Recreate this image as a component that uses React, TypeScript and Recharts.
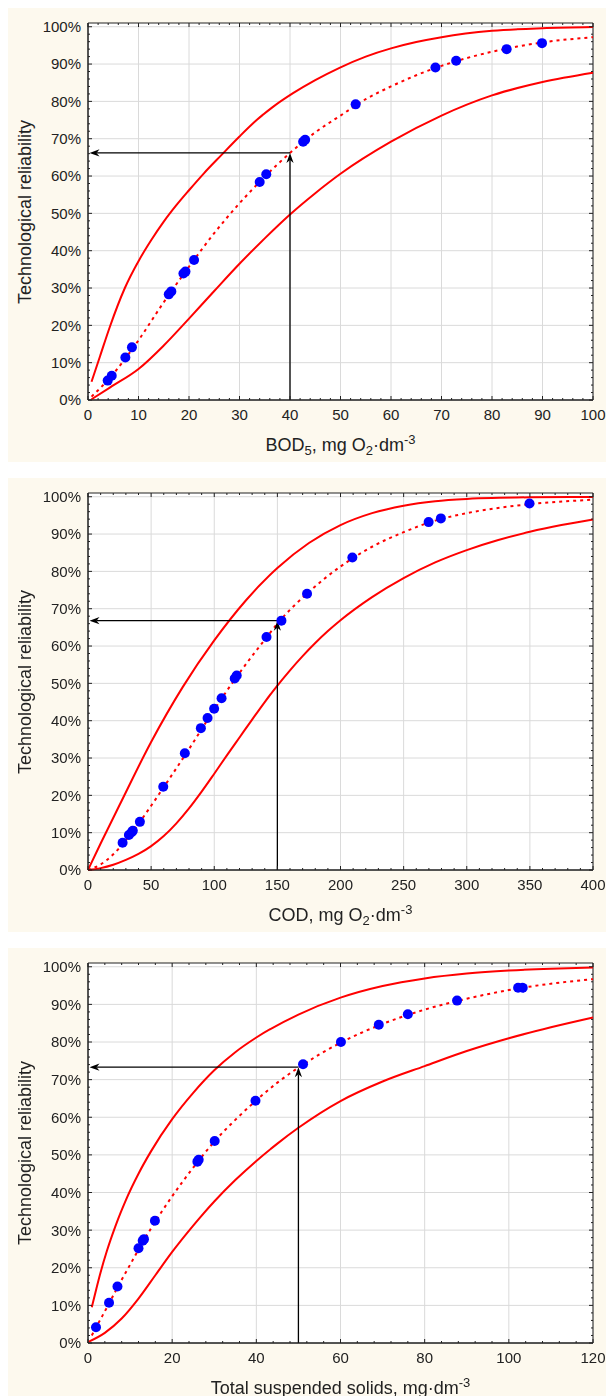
import React from 'react';
import { ComposedChart, Line, Scatter, XAxis, YAxis, CartesianGrid, ReferenceLine, ReferenceArea } from 'recharts';

type Pt = { x: number; y: number };

// BOD5 panel
const bodPoints: Pt[] = [
  { x: 3.9, y: 0.052 }, { x: 4.7, y: 0.065 }, { x: 7.4, y: 0.114 }, { x: 8.7, y: 0.141 },
  { x: 16.0, y: 0.283 }, { x: 16.5, y: 0.291 }, { x: 18.9, y: 0.339 }, { x: 19.3, y: 0.344 },
  { x: 21.0, y: 0.375 }, { x: 34.0, y: 0.584 }, { x: 35.3, y: 0.605 }, { x: 42.6, y: 0.692 },
  { x: 43.0, y: 0.697 }, { x: 53.0, y: 0.792 }, { x: 68.8, y: 0.891 }, { x: 72.9, y: 0.909 },
  { x: 82.9, y: 0.94 }, { x: 89.9, y: 0.956 },
];
const bodFit: Pt[] = [
  { x: 0.7, y: 0.009 }, { x: 2.5, y: 0.033 }, { x: 5, y: 0.07 }, { x: 7.5, y: 0.113 },
  { x: 10, y: 0.16 }, { x: 15, y: 0.262 }, { x: 20, y: 0.357 }, { x: 25, y: 0.447 },
  { x: 30, y: 0.527 }, { x: 35, y: 0.598 }, { x: 40, y: 0.662 }, { x: 45, y: 0.717 },
  { x: 50, y: 0.762 }, { x: 55, y: 0.806 }, { x: 60, y: 0.84 }, { x: 65, y: 0.87 },
  { x: 70, y: 0.895 }, { x: 75, y: 0.916 }, { x: 80, y: 0.933 }, { x: 85, y: 0.947 },
  { x: 90, y: 0.958 }, { x: 100, y: 0.972 },
];
const bodUpper: Pt[] = [
  { x: 0.7, y: 0.049 }, { x: 2.4, y: 0.118 }, { x: 4.3, y: 0.195 }, { x: 7.3, y: 0.3 },
  { x: 10, y: 0.372 }, { x: 12.5, y: 0.428 }, { x: 15, y: 0.478 }, { x: 17.5, y: 0.522 },
  { x: 20, y: 0.562 }, { x: 23, y: 0.608 }, { x: 26.4, y: 0.656 }, { x: 30, y: 0.706 },
  { x: 33.4, y: 0.75 }, { x: 36.5, y: 0.784 }, { x: 40.6, y: 0.822 }, { x: 45, y: 0.857 },
  { x: 49.8, y: 0.89 }, { x: 55, y: 0.92 }, { x: 60, y: 0.942 }, { x: 65, y: 0.959 },
  { x: 70, y: 0.972 }, { x: 80, y: 0.989 }, { x: 90, y: 0.996 }, { x: 100, y: 0.999 },
];
const bodLower: Pt[] = [
  { x: 0.7, y: 0.002 }, { x: 4.4, y: 0.034 }, { x: 10, y: 0.083 }, { x: 15, y: 0.146 },
  { x: 20, y: 0.218 }, { x: 25, y: 0.292 }, { x: 30, y: 0.365 }, { x: 35, y: 0.433 },
  { x: 40, y: 0.497 }, { x: 45, y: 0.554 }, { x: 50, y: 0.606 }, { x: 60, y: 0.692 },
  { x: 70, y: 0.762 }, { x: 80, y: 0.816 }, { x: 90, y: 0.852 }, { x: 100, y: 0.877 },
];
const bodArrow = { x: 40, y: 0.662 };
const bodXMajor = [0, 10, 20, 30, 40, 50, 60, 70, 80, 90, 100];

// COD panel
const codPoints: Pt[] = [
  { x: 27.4, y: 0.073 }, { x: 32.4, y: 0.094 }, { x: 34.6, y: 0.101 }, { x: 35.5, y: 0.105 },
  { x: 41.1, y: 0.129 }, { x: 59.6, y: 0.223 }, { x: 76.7, y: 0.313 }, { x: 89.4, y: 0.38 },
  { x: 94.7, y: 0.407 }, { x: 99.9, y: 0.432 }, { x: 105.8, y: 0.46 }, { x: 116.2, y: 0.513 },
  { x: 117.8, y: 0.521 }, { x: 141.4, y: 0.624 }, { x: 153.2, y: 0.668 }, { x: 173.5, y: 0.74 },
  { x: 209.4, y: 0.837 }, { x: 269.8, y: 0.932 }, { x: 279.5, y: 0.942 }, { x: 349.7, y: 0.982 },
];
const codFit: Pt[] = [
  { x: 0, y: 0 }, { x: 10, y: 0.015 }, { x: 20, y: 0.042 }, { x: 30, y: 0.08 },
  { x: 40, y: 0.124 }, { x: 50, y: 0.172 }, { x: 60, y: 0.222 }, { x: 80, y: 0.324 },
  { x: 100, y: 0.43 }, { x: 120, y: 0.528 }, { x: 140, y: 0.617 }, { x: 150, y: 0.66 },
  { x: 175, y: 0.745 }, { x: 200, y: 0.813 }, { x: 225, y: 0.866 }, { x: 250, y: 0.905 },
  { x: 275, y: 0.936 }, { x: 300, y: 0.956 }, { x: 350, y: 0.98 }, { x: 400, y: 0.992 },
];
const codUpper: Pt[] = [
  { x: 0, y: 0 }, { x: 10, y: 0.071 }, { x: 25, y: 0.174 }, { x: 50, y: 0.343 },
  { x: 75, y: 0.49 }, { x: 100, y: 0.615 }, { x: 125, y: 0.722 }, { x: 150, y: 0.809 },
  { x: 175, y: 0.876 }, { x: 200, y: 0.924 }, { x: 225, y: 0.956 }, { x: 250, y: 0.976 },
  { x: 275, y: 0.988 }, { x: 300, y: 0.994 }, { x: 350, y: 0.9985 }, { x: 400, y: 0.9995 },
];
const codLower: Pt[] = [
  { x: 0, y: 0 }, { x: 10, y: 0.005 }, { x: 20, y: 0.014 }, { x: 30, y: 0.027 },
  { x: 40, y: 0.043 }, { x: 50, y: 0.064 }, { x: 60, y: 0.091 }, { x: 70, y: 0.125 },
  { x: 80, y: 0.165 }, { x: 90, y: 0.21 }, { x: 100, y: 0.258 }, { x: 110, y: 0.307 },
  { x: 120, y: 0.355 }, { x: 130, y: 0.403 }, { x: 140, y: 0.45 }, { x: 150, y: 0.494 },
  { x: 160, y: 0.535 }, { x: 170, y: 0.573 }, { x: 180, y: 0.608 }, { x: 190, y: 0.64 },
  { x: 200, y: 0.669 }, { x: 225, y: 0.731 }, { x: 250, y: 0.782 }, { x: 275, y: 0.824 },
  { x: 300, y: 0.857 }, { x: 325, y: 0.884 }, { x: 350, y: 0.906 }, { x: 375, y: 0.924 },
  { x: 400, y: 0.939 },
];
const codArrow = { x: 150, y: 0.668 };
const codXMajor = [0, 50, 100, 150, 200, 250, 300, 350, 400];

// Total suspended solids panel
const tssPoints: Pt[] = [
  { x: 1.9, y: 0.042 }, { x: 5.0, y: 0.107 }, { x: 7.0, y: 0.15 }, { x: 12.0, y: 0.252 },
  { x: 13.0, y: 0.272 }, { x: 13.3, y: 0.276 }, { x: 15.9, y: 0.325 }, { x: 26.0, y: 0.482 },
  { x: 26.3, y: 0.487 }, { x: 30.1, y: 0.537 }, { x: 39.8, y: 0.644 }, { x: 51.1, y: 0.741 },
  { x: 60.1, y: 0.8 }, { x: 69.1, y: 0.846 }, { x: 76.0, y: 0.874 }, { x: 87.7, y: 0.91 },
  { x: 102.2, y: 0.944 }, { x: 103.3, y: 0.944 },
];
const tssFit: Pt[] = [
  { x: 0.9, y: 0.02 }, { x: 2, y: 0.043 }, { x: 5, y: 0.105 }, { x: 7.5, y: 0.158 },
  { x: 10, y: 0.208 }, { x: 12.5, y: 0.258 }, { x: 15, y: 0.305 }, { x: 20, y: 0.39 },
  { x: 25, y: 0.466 }, { x: 30, y: 0.535 }, { x: 35, y: 0.593 }, { x: 40, y: 0.645 },
  { x: 45, y: 0.692 }, { x: 50, y: 0.732 }, { x: 55, y: 0.767 }, { x: 60, y: 0.798 },
  { x: 70, y: 0.848 }, { x: 80, y: 0.886 }, { x: 90, y: 0.915 }, { x: 100, y: 0.938 },
  { x: 110, y: 0.955 }, { x: 120, y: 0.967 },
];
const tssUpper: Pt[] = [
  { x: 0.9, y: 0.095 }, { x: 2, y: 0.145 }, { x: 3, y: 0.188 }, { x: 4.5, y: 0.245 },
  { x: 6.5, y: 0.31 }, { x: 9, y: 0.38 }, { x: 12, y: 0.45 }, { x: 15, y: 0.51 },
  { x: 20, y: 0.595 }, { x: 25, y: 0.665 }, { x: 30, y: 0.725 }, { x: 35, y: 0.773 },
  { x: 40, y: 0.812 }, { x: 50, y: 0.873 }, { x: 60, y: 0.918 }, { x: 70, y: 0.949 },
  { x: 80, y: 0.969 }, { x: 90, y: 0.982 }, { x: 100, y: 0.99 }, { x: 110, y: 0.995 },
  { x: 120, y: 0.998 },
];
const tssLower: Pt[] = [
  { x: 0.1, y: 0.003 }, { x: 4, y: 0.027 }, { x: 8, y: 0.065 }, { x: 12, y: 0.118 },
  { x: 16, y: 0.18 }, { x: 20, y: 0.242 }, { x: 25, y: 0.312 }, { x: 30, y: 0.376 },
  { x: 35, y: 0.433 }, { x: 40, y: 0.484 }, { x: 45, y: 0.53 }, { x: 50, y: 0.572 },
  { x: 60, y: 0.643 }, { x: 70, y: 0.695 }, { x: 80, y: 0.736 }, { x: 90, y: 0.776 },
  { x: 100, y: 0.81 }, { x: 110, y: 0.839 }, { x: 120, y: 0.865 },
];
const tssArrow = { x: 50, y: 0.733 };
const tssXMajor = [0, 20, 40, 60, 80, 100, 120];

const yMajor = [0, 0.1, 0.2, 0.3, 0.4, 0.5, 0.6, 0.7, 0.8, 0.9, 1];

const FONT = '"Liberation Sans", Arial, Helvetica, sans-serif';
const CREAM = '#fdf9ee';
const CHART_W = 598;
const PLOT_L = 80;
const PLOT_R = 13;
const PLOT_T = 15;
const PLOT_W = CHART_W - PLOT_L - PLOT_R;
const Y_MAX = 1.01;
const INK = '#222';

const steps = (max: number, step: number) => {
  const out: number[] = [];
  for (let i = 0; i * step <= max + 1e-9; i++) out.push(Math.round(i * step * 1000) / 1000);
  return out;
};

const isMajorOf = (majors: number[], v: number) => majors.some((m) => Math.abs(m - v) < 1e-6);

// tick marks point inwards on all four sides, labels only on the majors
const makeXTick = (majors: number[], plotH: number) => (p: any) => {
  const { x, y, payload } = p;
  const v = payload.value;
  const major = isMajorOf(majors, v);
  const len = major ? 4 : 2;
  return (
    <g>
      <line x1={x} x2={x} y1={y} y2={y - len} stroke={INK} />
      <line x1={x} x2={x} y1={y - plotH} y2={y - plotH + len} stroke={INK} />
      {major && (
        <text x={x} y={y + 20} textAnchor="middle" fontSize={15} fontFamily={FONT} fill={INK}>
          {v}
        </text>
      )}
    </g>
  );
};

const makeYTick = () => (p: any) => {
  const { x, y, payload } = p;
  const v = payload.value;
  const major = isMajorOf(yMajor, v);
  const len = major ? 4 : 2;
  return (
    <g>
      <line x1={x} x2={x + len} y1={y} y2={y} stroke={INK} />
      <line x1={x + PLOT_W} x2={x + PLOT_W - len} y1={y} y2={y} stroke={INK} />
      {major && (
        <text x={x - 7} y={y} dy="0.36em" textAnchor="end" fontSize={15} fontFamily={FONT} fill={INK}>
          {`${Math.round(v * 100)}%`}
        </text>
      )}
    </g>
  );
};

const ArrowShape = (p: any) => {
  const { x1, y1, x2, y2 } = p;
  const dx = x2 - x1;
  const dy = y2 - y1;
  const d = Math.hypot(dx, dy) || 1;
  const ux = dx / d;
  const uy = dy / d;
  const L = 10;
  const W = 3.6;
  const N = 7;
  const bx = x2 - ux * L;
  const by = y2 - uy * L;
  const nx = x2 - ux * N;
  const ny = y2 - uy * N;
  const pts = `${x2},${y2} ${bx - uy * W},${by + ux * W} ${nx},${ny} ${bx + uy * W},${by - ux * W}`;
  return (
    <g>
      <line x1={x1} y1={y1} x2={nx} y2={ny} stroke="#000" strokeWidth={1.3} />
      <polygon points={pts} fill="#000" />
    </g>
  );
};

const Sub = ({ children }: { children: React.ReactNode }) => (
  <span style={{ fontSize: 13, position: 'relative', top: 4 }}>{children}</span>
);
const Sup = ({ children }: { children: React.ReactNode }) => (
  <span style={{ fontSize: 13, position: 'relative', top: -7 }}>{children}</span>
);

interface PanelProps {
  points: Pt[];
  fit: Pt[];
  upper: Pt[];
  lower: Pt[];
  xMax: number;
  xMajor: number[];
  xMinor: number;
  arrow: { x: number; y: number };
  height: number;
  plotH: number;
  title: React.ReactNode;
}

const Panel: React.FC<PanelProps> = ({ points, fit, upper, lower, xMax, xMajor, xMinor, arrow, height, plotH, title }) => {
  const xAxisH = height - PLOT_T - plotH;
  const xTicks = steps(xMax, xMinor);
  const yTicks = steps(1, 0.02);
  return (
    <div style={{ position: 'relative', width: CHART_W, height, background: CREAM, marginBottom: 16, fontFamily: FONT, color: INK }}>
      <ComposedChart width={CHART_W} height={height} margin={{ top: PLOT_T, right: PLOT_R, bottom: 0, left: 0 }}>
        <CartesianGrid fill="#fff" stroke="#dadada" verticalValues={xMajor} horizontalValues={yMajor} />
        <XAxis
          type="number"
          dataKey="x"
          domain={[0, xMax]}
          ticks={xTicks}
          interval={0}
          tickSize={0}
          tickMargin={0}
          tickLine={false}
          axisLine={{ stroke: INK }}
          tick={makeXTick(xMajor, plotH)}
          height={xAxisH}
        />
        <YAxis
          type="number"
          dataKey="y"
          domain={[0, Y_MAX]}
          ticks={yTicks}
          interval={0}
          tickSize={0}
          tickMargin={0}
          tickLine={false}
          axisLine={{ stroke: INK }}
          tick={makeYTick()}
          width={PLOT_L}
        />
        <Line data={upper} dataKey="y" type="monotone" stroke="#ff0000" strokeWidth={2} dot={false} isAnimationActive={false} />
        <Line data={lower} dataKey="y" type="monotone" stroke="#ff0000" strokeWidth={2} dot={false} isAnimationActive={false} />
        <Scatter
          data={points}
          isAnimationActive={false}
          shape={(p: any) => <circle cx={p.cx} cy={p.cy} r={5} fill="#0000ff" />}
        />
        <Line data={fit} dataKey="y" type="monotone" stroke="#ff0000" strokeWidth={2} strokeDasharray="3 4" dot={false} isAnimationActive={false} />
        <ReferenceLine segment={[{ x: arrow.x, y: 0 }, { x: arrow.x, y: arrow.y }]} shape={ArrowShape} />
        <ReferenceLine segment={[{ x: arrow.x, y: arrow.y }, { x: xMax * 0.003, y: arrow.y }]} shape={ArrowShape} />
        <ReferenceArea x1={0} x2={xMax} y1={0} y2={Y_MAX} fill="none" stroke={INK} strokeWidth={1} ifOverflow="visible" />
      </ComposedChart>
      <div
        style={{
          position: 'absolute',
          left: 17,
          top: PLOT_T + plotH / 2,
          transform: 'translate(-50%, -50%) rotate(-90deg)',
          whiteSpace: 'nowrap',
          fontSize: 18,
          lineHeight: '20px',
        }}
      >
        Technological reliability
      </div>
      <div
        style={{
          position: 'absolute',
          left: PLOT_L,
          width: PLOT_W,
          top: PLOT_T + plotH + 35,
          textAlign: 'center',
          whiteSpace: 'nowrap',
          fontSize: 18,
          lineHeight: '20px',
        }}
      >
        {title}
      </div>
    </div>
  );
};

export default function App() {
  return (
    <>
      <style>{'html, body { overflow: hidden; }'}</style>
      <div style={{ position: 'fixed', left: 8, top: 8, width: CHART_W, height: 1388, overflow: 'hidden' }}>
        <Panel
          points={bodPoints}
          fit={bodFit}
          upper={bodUpper}
          lower={bodLower}
          xMax={100}
          xMajor={bodXMajor}
          xMinor={2}
          arrow={bodArrow}
          height={454}
          plotH={377}
          title={<>BOD<Sub>5</Sub>, mg O<Sub>2</Sub>·dm<Sup>-3</Sup></>}
        />
        <Panel
          points={codPoints}
          fit={codFit}
          upper={codUpper}
          lower={codLower}
          xMax={400}
          xMajor={codXMajor}
          xMinor={10}
          arrow={codArrow}
          height={454}
          plotH={377}
          title={<>COD, mg O<Sub>2</Sub>·dm<Sup>-3</Sup></>}
        />
        <Panel
          points={tssPoints}
          fit={tssFit}
          upper={tssUpper}
          lower={tssLower}
          xMax={120}
          xMajor={tssXMajor}
          xMinor={4}
          arrow={tssArrow}
          height={454}
          plotH={380}
          title={<>Total suspended solids, mg·dm<Sup>-3</Sup></>}
        />
      </div>
    </>
  );
}
